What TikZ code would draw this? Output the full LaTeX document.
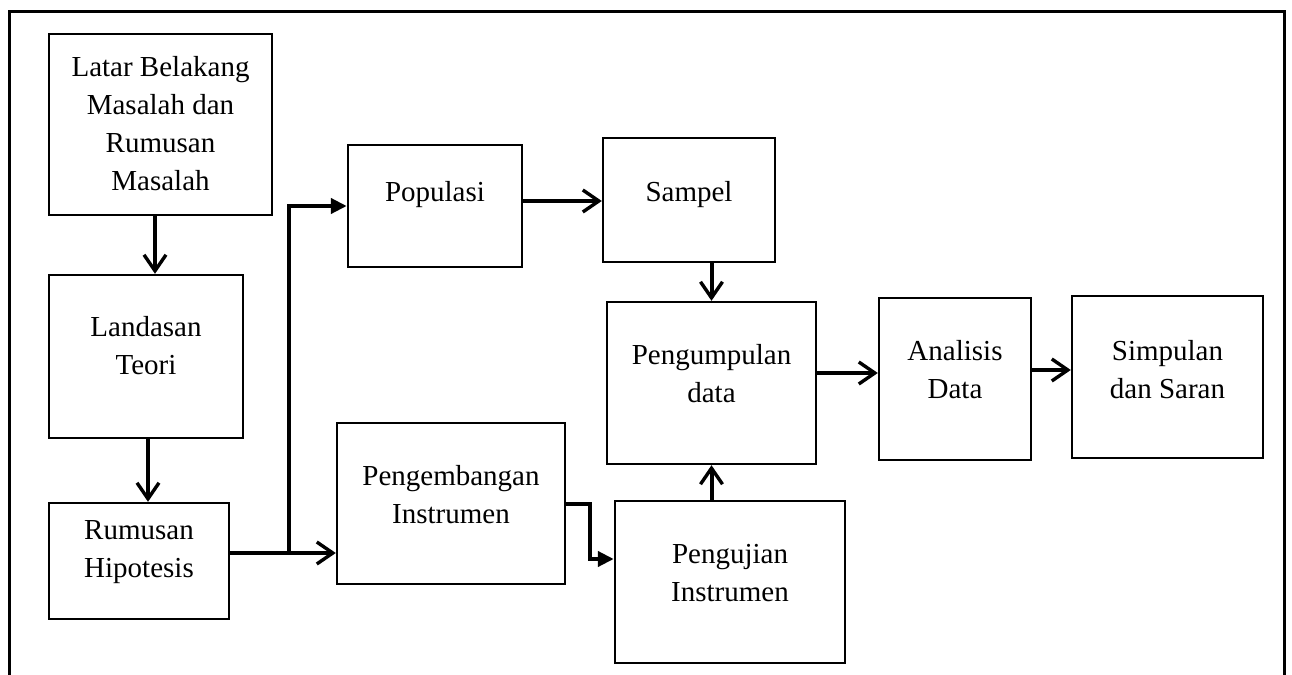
\documentclass[tikz,border=0pt]{standalone}
\usepackage{fontspec}
\setmainfont{Liberation Serif}
\usetikzlibrary{calc,fit,arrows.meta}

\begin{document}
\begin{tikzpicture}[x=.5pt,y=-.5pt,
    kotak/.style={draw,line width=1.2pt,inner sep=0pt,fit={#1}},
    teks/.style={font=\fontsize{14.5}{19}\selectfont,align=center,yshift=4.5pt},
    panah/.style={line width=2pt,-{Straight Barb[length=8pt,width=11pt,line width=1.7pt]}},
    panahisi/.style={line width=2pt,-{Triangle[length=8pt,width=7.5pt]}}]
  \useasboundingbox (0,0) rectangle (1292,675);
  % bingkai luar
  \draw[line width=1.5pt] (9,675) -- (9,11) -- (1284,11) -- (1284,675);
  % kotak
  \node[kotak={(49,34) (272,215)}] (latar) {};
  \node[kotak={(49,275) (243,438)}] (landasan) {};
  \node[kotak={(49,503) (229,619)}] (hipotesis) {};
  \node[kotak={(348,145) (522,267)}] (populasi) {};
  \node[kotak={(603,138) (775,262)}] (sampel) {};
  \node[kotak={(607,302) (816,464)}] (pengumpulan) {};
  \node[kotak={(337,423) (565,584)}] (pengembangan) {};
  \node[kotak={(615,501) (845,663)}] (pengujian) {};
  \node[kotak={(879,298) (1031,460)}] (analisis) {};
  \node[kotak={(1072,296) (1263,458)}] (simpulan) {};
  % teks
  \node[teks,yshift=-4pt] at (latar) {Latar Belakang\\Masalah dan\\Rumusan\\Masalah};
  \node[teks,yshift=1pt] at (landasan) {Landasan\\Teori};
  \node[teks] at (hipotesis) {Rumusan\\Hipotesis};
  \node[teks,yshift=1pt] at (populasi) {Populasi};
  \node[teks,yshift=-2pt] at (sampel) {Sampel};
  \node[teks] at (pengumpulan) {Pengumpulan\\data};
  \node[teks] at (pengembangan) {Pengembangan\\Instrumen};
  \node[teks] at (pengujian) {Pengujian\\Instrumen};
  \node[teks] at (analisis) {Analisis\\Data};
  \node[teks,yshift=-1pt] at (simpulan) {Simpulan\\dan Saran};
  % panah
  \coordinate (cabang) at (289,553);
  \coordinate (belok) at (590,559);
  \draw[panah] (latar.south -| 155,0) -- (landasan.north -| 155,0);
  \draw[panah] (landasan.south -| 148,0) -- (hipotesis.north -| 148,0);
  \draw[line width=2pt] (cabang -| hipotesis.east) -- (cabang);
  \draw[panah] (cabang) -- (cabang -| pengembangan.west);
  \draw[panahisi] (cabang) |- (populasi.west);
  \draw[panah] (populasi.east |- 0,201) -- (sampel.west |- 0,201);
  \draw[panah] (pengumpulan.north |- sampel.south) -- (pengumpulan.north);
  \draw[panah] (pengumpulan.south |- pengujian.north) -- (pengumpulan.south);
  \draw[panahisi] (pengembangan.east) -| (belok) -- (belok -| pengujian.west);
  \draw[panah] (pengumpulan.east |- 0,373) -- (analisis.west |- 0,373);
  \draw[panah] (analisis.east |- 0,370) -- (simpulan.west |- 0,370);
\end{tikzpicture}
\end{document}
